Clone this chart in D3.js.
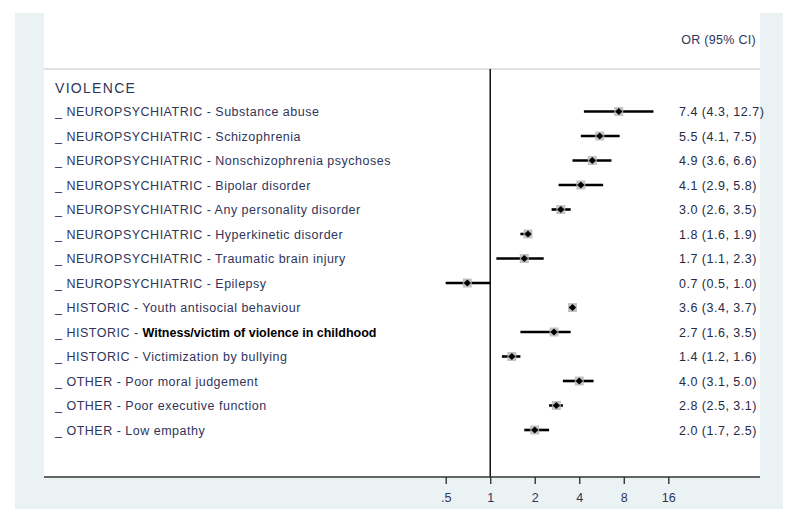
<!DOCTYPE html>
<html>
<head>
<meta charset="utf-8">
<script src="https://cdn.jsdelivr.net/npm/d3@7/dist/d3.min.js"></script>
<style>
  html, body { margin: 0; padding: 0; background: #fff; }
  svg { display: block; font-family: "Liberation Sans", Arial, sans-serif; }
</style>
</head>
<body>
<svg id="chart" width="800" height="522"></svg>
<script>
// ---- data ----
const sectionTitle = "VIOLENCE";
const headerLabel = "OR (95% CI)";
const groups = ["NEUROPSYCHIATRIC","NEUROPSYCHIATRIC","NEUROPSYCHIATRIC","NEUROPSYCHIATRIC",
  "NEUROPSYCHIATRIC","NEUROPSYCHIATRIC","NEUROPSYCHIATRIC","NEUROPSYCHIATRIC",
  "HISTORIC","HISTORIC","HISTORIC","OTHER","OTHER","OTHER"];
const factors = ["Substance abuse","Schizophrenia","Nonschizophrenia psychoses","Bipolar disorder",
  "Any personality disorder","Hyperkinetic disorder","Traumatic brain injury","Epilepsy",
  "Youth antisocial behaviour","Witness/victim of violence in childhood","Victimization by bullying",
  "Poor moral judgement","Poor executive function","Low empathy"];
const orValues = [7.4, 5.5, 4.9, 4.1, 3.0, 1.8, 1.7, 0.7, 3.6, 2.7, 1.4, 4.0, 2.8, 2.0];
const ciLow    = [4.3, 4.1, 3.6, 2.9, 2.6, 1.6, 1.1, 0.5, 3.4, 1.6, 1.2, 3.1, 2.5, 1.7];
const ciHigh   = [12.7, 7.5, 6.6, 5.8, 3.5, 1.9, 2.3, 1.0, 3.7, 3.5, 1.6, 5.0, 3.1, 2.5];
const tickValues = [0.5, 1, 2, 4, 8, 16];
const tickLabels = [".5", "1", "2", "4", "8", "16"];

const rows = factors.map((f, i) => ({ group: groups[i], factor: f, or: orValues[i], lo: ciLow[i], hi: ciHigh[i] }));

// ---- layout ----
const svg = d3.select("#chart");
const outer = { x0: 15, x1: 783, y0: 13, y1: 509 };
const panel = { x0: 44, x1: 760, y0: 13, y1: 477 };
const headerLineY = 69;
const textColor = "#30355a";

svg.append("rect").attr("x", outer.x0).attr("y", outer.y0)
  .attr("width", outer.x1 - outer.x0).attr("height", outer.y1 - outer.y0).attr("fill", "#eaf2f3");
svg.append("rect").attr("x", panel.x0).attr("y", panel.y0)
  .attr("width", panel.x1 - panel.x0).attr("height", panel.y1 - panel.y0).attr("fill", "#fff");

const x = d3.scaleLog().base(2).domain([0.5, 16]).range([445.7, 668.3]);
const y = d3.scaleLinear().domain([0, rows.length - 1]).range([111.5, 430]);

// header separator
svg.append("line").attr("x1", panel.x0).attr("x2", panel.x1)
  .attr("y1", headerLineY).attr("y2", headerLineY)
  .attr("stroke", "#c4c4c4").attr("stroke-width", 1.2);

// header label
svg.append("text").attr("x", 756).attr("y", 44).attr("text-anchor", "end")
  .attr("font-size", 12.5).attr("letter-spacing", 0.3).attr("fill", textColor).text(headerLabel);

// section title
svg.append("text").attr("x", 55).attr("y", y(-1) + 5.5)
  .attr("font-size", 14).attr("letter-spacing", 1.3).attr("fill", textColor).text(sectionTitle);

// null line
svg.append("line").attr("x1", x(1)).attr("x2", x(1))
  .attr("y1", headerLineY).attr("y2", panel.y1)
  .attr("stroke", "#111").attr("stroke-width", 1.5);

// row labels
const emphasized = "Witness/victim of violence in childhood";
const lab = svg.append("g").selectAll("text").data(rows).join("text")
  .attr("x", 55).attr("y", (d, i) => y(i) + 4.5)
  .attr("font-size", 12.5).attr("letter-spacing", 0.5).attr("fill", textColor);
lab.append("tspan").text(d => "_ " + d.group + " - ");
lab.append("tspan")
  .attr("fill", d => d.factor === emphasized ? "#000" : textColor)
  .attr("font-weight", d => d.factor === emphasized ? "bold" : "normal")
  .attr("letter-spacing", d => d.factor === emphasized ? 0 : 0.5)
  .text(d => d.factor);

// CI lines
const g = svg.append("g");
g.selectAll("line.ci").data(rows).join("line").attr("class", "ci")
  .attr("x1", d => x(d.lo)).attr("x2", d => x(d.hi))
  .attr("y1", (d, i) => y(i)).attr("y2", (d, i) => y(i))
  .attr("stroke", "#000").attr("stroke-width", 2.6);

// weight boxes
g.selectAll("rect.box").data(rows).join("rect").attr("class", "box")
  .attr("x", d => x(d.or) - 4.5).attr("y", (d, i) => y(i) - 4.5)
  .attr("width", 9).attr("height", 9).attr("fill", "#b8b8b8").attr("opacity", 0.85);

// point markers (diamonds)
g.selectAll("path.pt").data(rows).join("path").attr("class", "pt")
  .attr("transform", (d, i) => `translate(${x(d.or)},${y(i)})`)
  .attr("d", "M0,-3.6L3.6,0L0,3.6L-3.6,0Z").attr("fill", "#000");

// OR text
svg.append("g").selectAll("text").data(rows).join("text")
  .attr("x", 679).attr("y", (d, i) => y(i) + 4.5)
  .attr("font-size", 12.5).attr("letter-spacing", 0.5).attr("fill", "#262a45")
  .text(d => `${d.or.toFixed(1)} (${d.lo.toFixed(1)}, ${d.hi.toFixed(1)})`);

// x axis
const axis = d3.axisBottom(x).tickValues(tickValues)
  .tickFormat((d, i) => tickLabels[i]).tickSize(7).tickSizeOuter(0).tickPadding(9);
const ax = svg.append("g").attr("transform", `translate(0,${panel.y1})`).call(axis);
ax.select(".domain").remove();
ax.selectAll(".tick line").attr("stroke", "#333").attr("stroke-width", 1.4);
ax.selectAll(".tick text").attr("font-size", 12.5).attr("fill", textColor)
  .attr("font-family", "Liberation Sans, Arial, sans-serif");
svg.append("line").attr("x1", panel.x0).attr("x2", panel.x1)
  .attr("y1", panel.y1).attr("y2", panel.y1)
  .attr("stroke", "#333").attr("stroke-width", 1.6);
</script>
</body>
</html>
